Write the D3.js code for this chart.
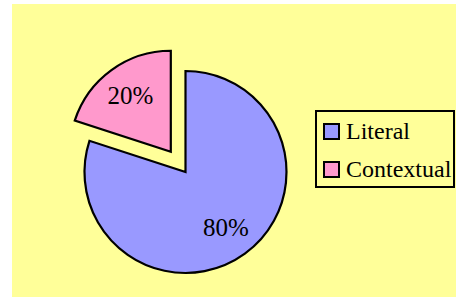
<!DOCTYPE html>
<html>
<head>
<meta charset="utf-8" />
<title>Literal vs Contextual</title>
<style>
body { margin: 0; background: #fff; }
svg { display: block; }
</style>
</head>
<body>
<div id="chart"></div>
<script src="https://cdn.jsdelivr.net/npm/d3@7"></script>
<script>
!(function(){
    "use strict"

    var categories = ["Literal", "Contextual"]
    var values = [80, 20]
    var labels = ["80%", "20%"]
    var colors = ["#9999ff", "#ff99cc"]
    var exploded = [0, 25]

    var width = 456, height = 298
    var cx = 185.5, cy = 172, radius = 101
    var serif = "'Liberation Serif', 'Times New Roman', 'DejaVu Serif', serif"

    var svg = d3.select("#chart").append("svg")
        .attr("width", width)
        .attr("height", height)

    // plot area background
    svg.append("rect")
        .attr("x", 12).attr("y", 4)
        .attr("width", width - 12).attr("height", height - 5)
        .attr("fill", "#ffff99")

    var pie = d3.pie().sort(null)
    var arcs = pie(values)

    var arc = d3.arc().innerRadius(0).outerRadius(radius)
    var labelArc = d3.arc().innerRadius(radius * 0.68).outerRadius(radius * 0.68)

    var slices = svg.append("g")
        .attr("transform", "translate(" + [cx, cy] + ")")
        .selectAll("g")
        .data(arcs)
        .enter().append("g")
        .attr("transform", function(d, i) {
            var mid = (d.startAngle + d.endAngle) / 2
            var off = exploded[i]
            return "translate(" + [Math.sin(mid) * off, -Math.cos(mid) * off] + ")"
        })

    slices.append("path")
        .attr("d", arc)
        .attr("fill", function(d, i) { return colors[i] })
        .attr("stroke", "#000")
        .attr("stroke-width", 2.2)
        .attr("stroke-linejoin", "miter")

    slices.append("text")
        .attr("transform", function(d) { return "translate(" + labelArc.centroid(d) + ")" })
        .attr("text-anchor", "middle")
        .attr("dy", "0.33em")
        .attr("font-family", serif)
        .attr("font-size", 25)
        .text(function(d, i) { return labels[i] })

    // legend
    var legend = svg.append("g")
    legend.append("rect")
        .attr("x", 316).attr("y", 111)
        .attr("width", 138).attr("height", 76)
        .attr("fill", "#ffff99")
        .attr("stroke", "#000")
        .attr("stroke-width", 2)

    var item = legend.selectAll("g.item")
        .data(categories)
        .enter().append("g")
        .attr("class", "item")
        .attr("transform", function(d, i) { return "translate(324," + (124 + i * 38) + ")" })

    item.append("rect")
        .attr("width", 15).attr("height", 15)
        .attr("fill", function(d, i) { return colors[i] })
        .attr("stroke", "#000")
        .attr("stroke-width", 2)

    item.append("text")
        .attr("x", 22).attr("y", 15)
        .attr("font-family", serif)
        .attr("font-size", 24)
        .text(function(d) { return d })
}());
</script>
</body>
</html>
